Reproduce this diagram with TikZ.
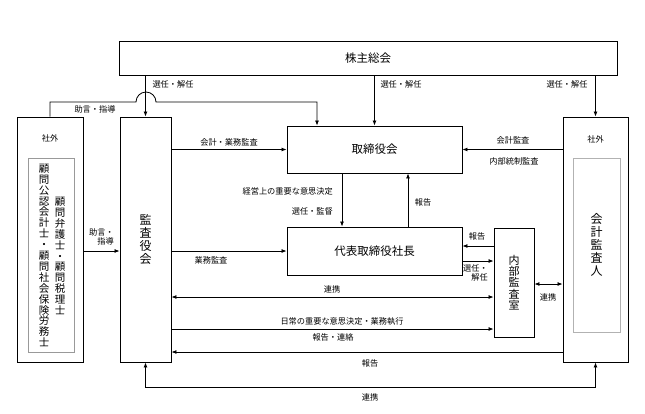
\documentclass[tikz,border=0pt]{standalone}
\usepackage{fontspec}
\setmainfont{Noto Sans CJK JP}
\usetikzlibrary{arrows.meta,calc}
\begin{document}
\begin{tikzpicture}[x=1pt,y=-1pt,
  box/.style={draw=black,line width=0.9pt,inner sep=0pt},
  ibox/.style={draw=gray,line width=0.9pt,inner sep=0pt},
  lbl/.style={font=\fontsize{8.2}{9.6}\selectfont,inner sep=0pt},
  ttl/.style={font=\fontsize{11.5}{13}\selectfont},
  vtx/.style={font=\fontsize{12}{13}\selectfont,align=center,inner sep=0pt},
  arr/.style={-{Latex[length=5pt,width=4pt]},line width=0.8pt},
  darr/.style={{Latex[length=5pt,width=4pt]}-{Latex[length=5pt,width=4pt]},line width=0.8pt}
]
\useasboundingbox (0,0) rectangle (645,413);

% boxes
\node[box,minimum width=498pt,minimum height=34pt,ttl] (gm) at (368,58) {株主総会};
\node[box,minimum width=66pt,minimum height=245pt] (lo) at (50,239.5) {};
\node[ibox,draw=gray!80,minimum width=46pt,minimum height=194pt] (li) at (51,255) {};
\node[box,minimum width=51pt,minimum height=245pt,vtx] (kansa) at (145.5,239.5) {監\\査\\役\\会};
\node[box,minimum width=175pt,minimum height=47pt,ttl] (tori) at (374.5,149.5) {取締役会};
\node[box,minimum width=175pt,minimum height=48pt,ttl] (daihyo) at (374.5,251) {代表取締役社長};
\node[box,minimum width=40pt,minimum height=109pt,vtx,font=\fontsize{11}{11.4}\selectfont] (naibu) at (514,282.5) {内\\部\\監\\査\\室};
\node[box,minimum width=65pt,minimum height=245pt] (kaikei) at (595.5,239.5) {};
\node[ibox,draw=gray!60,minimum width=47pt,minimum height=174pt,vtx] (ri) at (596.5,245) {会\\計\\監\\査\\人};

% texts inside outer boxes
\node[lbl] (sg1) at (50,138) {社外};
\node[lbl] (sg2) at (595.5,139) {社外};
\node[vtx,font=\fontsize{10.5}{10.9}\selectfont] (col1) at (44,255.5) {顧\\問\\公\\認\\会\\計\\士\\・\\顧\\問\\社\\会\\保\\険\\労\\務\\士};
\node[vtx,font=\fontsize{10.5}{10.9}\selectfont] (col2) at (60,256) {顧\\問\\弁\\護\\士\\・\\顧\\問\\税\\理\\士};

% helper coordinates
\coordinate (y246) at (0,246);
\coordinate (y261) at (0,261);
\coordinate (y284) at (0,284);
\coordinate (y297) at (0,297);
\coordinate (y329) at (0,329);
\coordinate (y352) at (0,352);
\coordinate (y251) at (0,251);

% connectors from 株主総会
\draw[arr] (kansa.north |- gm.south) -- (kansa.north);
\draw[arr] (gm.south -| tori.north) -- (tori.north);
\draw[arr] (gm.south -| kaikei.north) -- (kaikei.north);

% 助言・指導 with hop
\draw[arr] (lo.north) |- (136,102) arc[start angle=180,end angle=0,radius=10pt] -| ($(tori.north)+(-57.5,0)$);

% horizontal arrows
\draw[arr] (kansa.east |- tori.west) -- (tori.west);
\draw[arr] (kaikei.west |- tori.east) -- (tori.east);
\draw[arr] ($(tori.south)+(-32.5,0)$) -- ($(daihyo.north)+(-32.5,0)$);
\draw[arr] ($(daihyo.north)+(33.5,0)$) -- ($(tori.south)+(33.5,0)$);
\draw[arr] (kansa.east |- daihyo.west) -- (daihyo.west);
\draw[arr] (naibu.west |- y246) -- (daihyo.east |- y246);
\draw[arr] (daihyo.east |- y261) -- (naibu.west |- y261);
\draw[darr] (naibu.east |- y284) -- (kaikei.west |- y284);
\draw[darr] (kansa.east |- y297) -- (naibu.west |- y297);
\draw[arr] (kansa.east |- y329) -- (naibu.west |- y329);
\draw[arr] (kaikei.west |- y352) -- (kansa.east |- y352);
\draw[arr] (lo.east |- y251) -- (kansa.west |- y251);
\draw[darr] (kansa.south) -- ++(0,25) -| (kaikei.south);

% labels
\node[lbl] (l1) at (173,84) {選任・解任};
\node[lbl] (l2) at (401,84) {選任・解任};
\node[lbl] (l3) at (567,84) {選任・解任};
\node[lbl] (l4) at (95,109) {助言・指導};
\node[lbl] (l5) at (229,142) {会計・業務監査};
\node[lbl] (l6) at (211,260) {業務監査};
\node[lbl,anchor=east] (l7) at (333,191) {経営上の重要な意思決定};
\node[lbl,anchor=east] (l8) at (333,211) {選任・監督};
\node[lbl] (l9) at (423,202) {報告};
\node[lbl] (l10) at (513,140) {会計監査};
\node[lbl] (l11) at (514,161) {内部統制監査};
\node[lbl] (l12) at (477,236) {報告};
\node[lbl,align=right,anchor=east] (l13) at (488,273) {選任・\\解任};
\node[lbl] (l14) at (548,297) {連携};
\node[lbl] (l15) at (332,289) {連携};
\node[lbl] (l16) at (342,321) {日常の重要な意思決定・業務執行};
\node[lbl] (l17) at (333,337) {報告・連絡};
\node[lbl] (l18) at (370,363) {報告};
\node[lbl] (l19) at (370,397) {連携};
\node[lbl,align=right,anchor=east] (l20) at (114,237) {助言・\\指導};
\end{tikzpicture}
\end{document}
